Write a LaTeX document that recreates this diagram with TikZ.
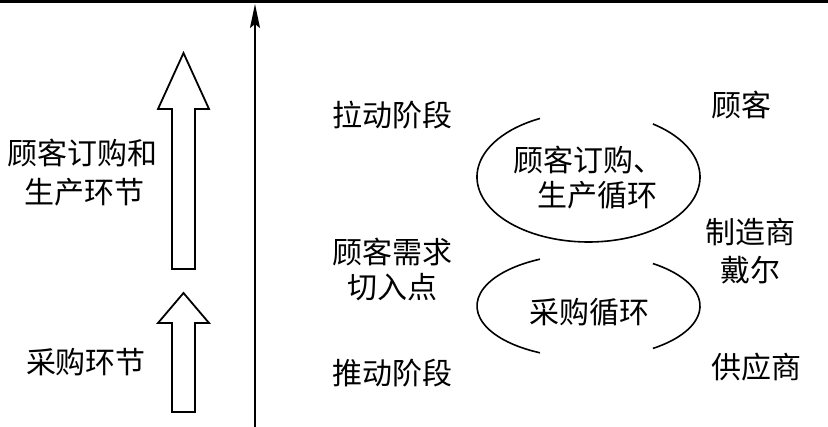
\documentclass[tikz,border=0pt]{standalone}
\usepackage{fontspec}
\setmainfont{Noto Sans CJK SC}
\usetikzlibrary{arrows.meta}
\begin{document}
\begin{tikzpicture}[x=1pt,y=-1pt,
  lbl/.style={font=\fontsize{30}{34}\selectfont, inner sep=0pt, anchor=center},
  hollow/.style={draw, line width=1.8pt, line join=miter},
  oval/.style={line width=1.6pt}]
\useasboundingbox (0,0) rectangle (828,427);
% top rule
\coordinate (tl) at (0,1.5);
\coordinate (tr) at (828,1.5);
\draw[line width=3pt] (tl) -- (tr);
% vertical axis arrow
\coordinate (vb) at (255,427);
\coordinate (vt) at (255,4);
\draw[line width=1.8pt, -{Stealth[length=24pt,width=10pt,inset=4pt]}] (vb) -- (vt);
% hollow arrows
\draw[hollow] (172,269) -- (172,109) -- (158,109) -- (183.5,53) -- (209,109) -- (195,109) -- (195,269) -- cycle;
\draw[hollow] (172,412) -- (172,323) -- (158,323) -- (183.5,293) -- (209,323) -- (195,323) -- (195,412) -- cycle;
% left labels
\node[lbl] (l1) at (83,153) {顾客订购和};
\node[lbl] (l2) at (84,192) {生产环节};
\node[lbl] (l3) at (86,362) {采购环节};
% middle labels
\node[lbl] (m1) at (392,115) {拉动阶段};
\node[lbl] (m2) at (392,252) {顾客需求};
\node[lbl] (m3) at (392,287) {切入点};
\node[lbl] (m4) at (392,373) {推动阶段};
% right labels
\node[lbl] (r1) at (741,105) {顾客};
\node[lbl] (r2) at (750,232) {制造商};
\node[lbl] (r3) at (750,270) {戴尔};
\node[lbl] (r4) at (756,367) {供应商};
% upper oval (open at top)
\coordinate (c1) at (588.5,177);
\draw[oval] (c1) ++(-54.7:111.5 and 65) arc[start angle=-54.7, end angle=244.2, x radius=111.5, y radius=65];
\node[lbl] (e1) at (588,160) {顾客订购、};
\node[lbl] (e2) at (597,195) {生产循环};
% lower oval (open at top and bottom)
\coordinate (c2) at (588.5,306);
\draw[oval] (c2) ++(-54.7:111.5 and 52) arc[start angle=-54.7, end angle=54.7, x radius=111.5, y radius=52];
\draw[oval] (c2) ++(115.8:111.5 and 52) arc[start angle=115.8, end angle=244.2, x radius=111.5, y radius=52];
\node[lbl] (e3) at (589,312) {采购循环};
\end{tikzpicture}
\end{document}
